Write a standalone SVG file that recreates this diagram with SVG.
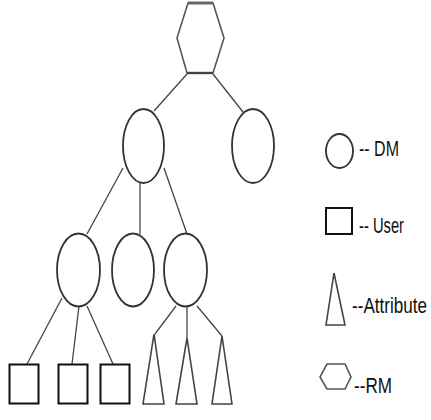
<svg xmlns="http://www.w3.org/2000/svg" width="431" height="420" viewBox="0 0 431 420">
<style>
.node{fill:#fff;stroke:#333;stroke-width:1.8}
.sq{fill:#fff;stroke:#111;stroke-width:2}
.tri{fill:#fff;stroke:#444;stroke-width:1.6}
.hex{fill:#fff;stroke:#555;stroke-width:1.6}
.edge{stroke:#444;stroke-width:1.3;fill:none}
.lbl{font-family:"Liberation Sans",Arial,sans-serif;font-size:17px;fill:#111}
</style>
<rect width="431" height="420" fill="#fff"/>
<g id="connectors">
<line class="edge" x1="187" y1="74" x2="154" y2="111"/>
<line class="edge" x1="213" y1="74" x2="243" y2="112"/>
<line class="edge" x1="123" y1="168" x2="87" y2="234"/>
<line class="edge" x1="140" y1="183" x2="140" y2="234"/>
<line class="edge" x1="164" y1="168" x2="187" y2="234"/>
<line class="edge" x1="62" y1="298" x2="27" y2="364"/>
<line class="edge" x1="79" y1="306" x2="72" y2="364"/>
<line class="edge" x1="87" y1="306" x2="113" y2="364"/>
<line class="edge" x1="176" y1="306" x2="155" y2="334"/>
<line class="edge" x1="187" y1="306" x2="187" y2="338"/>
<line class="edge" x1="197" y1="306" x2="222" y2="336"/>
</g>
<g id="rm-root">
<polygon class="hex" points="188,3 213,3 224,38 213,73 187,73 177,38"/>
<line x1="188" y1="3" x2="213" y2="3" stroke="#666" stroke-width="3"/>
<line x1="187" y1="73" x2="213" y2="73" stroke="#444" stroke-width="2.4"/>
</g>
<g id="dm1"><ellipse class="node" cx="143.5" cy="146" rx="20.5" ry="37"/></g>
<g id="dm2"><ellipse class="node" cx="253" cy="146" rx="21" ry="37"/></g>
<g id="dm3"><ellipse class="node" cx="78.5" cy="270" rx="21.5" ry="36.5"/></g>
<g id="dm4"><ellipse class="node" cx="133" cy="270" rx="21" ry="36.5"/></g>
<g id="dm5"><ellipse class="node" cx="185.5" cy="270" rx="21.5" ry="36.5"/></g>
<g id="user1"><rect class="sq" x="9.5" y="364.5" width="29" height="39"/></g>
<g id="user2"><rect class="sq" x="58.5" y="364.5" width="29" height="39"/></g>
<g id="user3"><rect class="sq" x="100.5" y="364.5" width="29" height="39"/></g>
<g id="attr1"><polygon class="tri" points="154,334 164,404 143,404"/></g>
<g id="attr2"><polygon class="tri" points="187,338 197,404 176,404"/></g>
<g id="attr3"><polygon class="tri" points="222,336 232,404 212,404"/></g>
<g id="legend-dm">
<ellipse class="node" cx="339.5" cy="151" rx="13.5" ry="17"/>
<text class="lbl" transform="translate(359,156) scale(1,1.3)" textLength="40" lengthAdjust="spacingAndGlyphs">-- DM</text>
</g>
<g id="legend-user">
<rect class="sq" x="326" y="208" width="26" height="26"/>
<text class="lbl" transform="translate(359,233) scale(1,1.3)" textLength="45" lengthAdjust="spacingAndGlyphs">-- User</text>
</g>
<g id="legend-attr">
<polygon class="tri" points="334,273 345,325 326,325"/>
<text class="lbl" transform="translate(352,313) scale(1,1.3)" textLength="75" lengthAdjust="spacingAndGlyphs">--Attribute</text>
</g>
<g id="legend-rm">
<polygon class="hex" points="327,364 345,364 351,377 345,389 327,389 320,377"/>
<text class="lbl" transform="translate(354,393) scale(1,1.3)" textLength="38" lengthAdjust="spacingAndGlyphs">--RM</text>
</g>
</svg>
